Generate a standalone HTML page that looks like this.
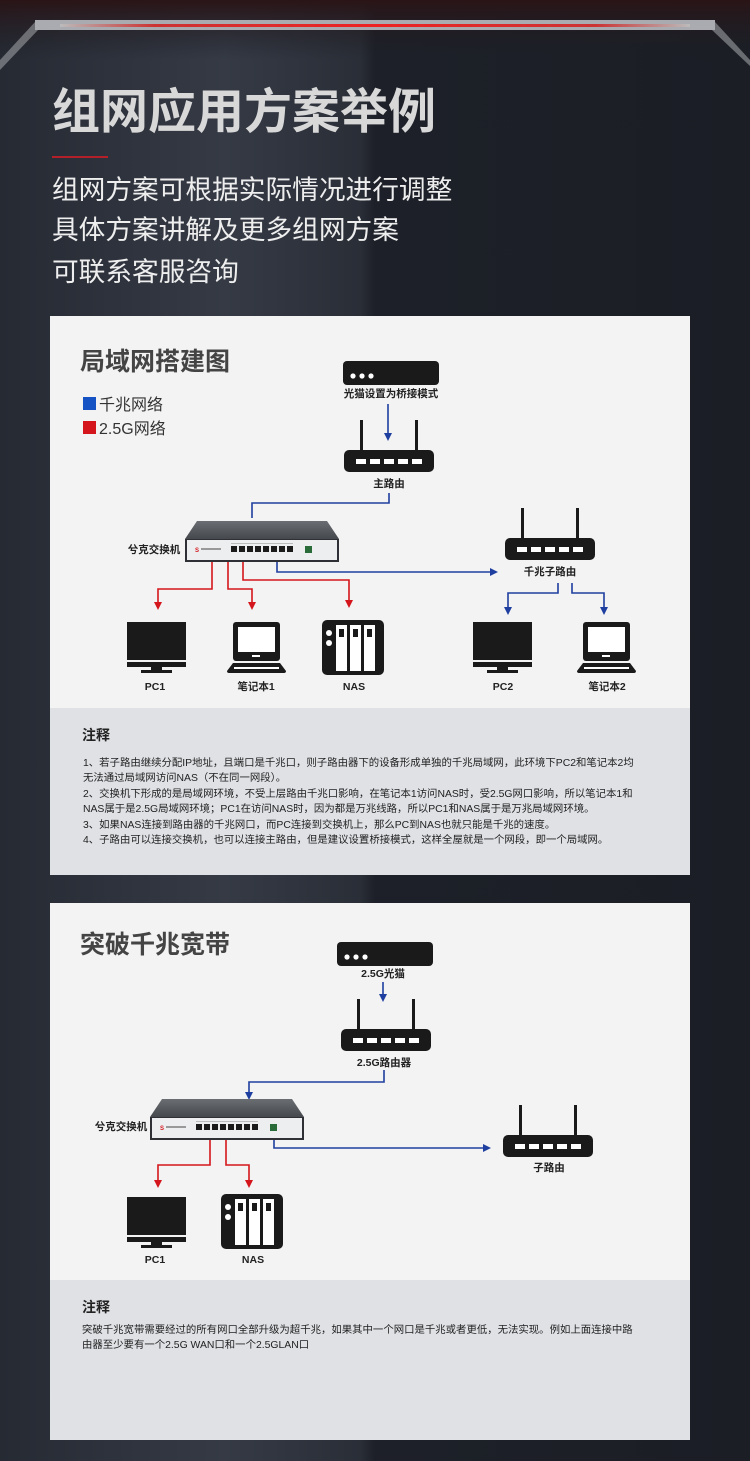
<!DOCTYPE html>
<html><head><meta charset="utf-8"><style>
html,body{margin:0;padding:0;width:750px;height:1461px;overflow:hidden;background:#1d2129;}
svg{display:block}
text{font-family:"Liberation Sans","Noto Sans CJK SC",sans-serif;}
</style></head><body>
<svg width="750" height="1461" viewBox="0 0 750 1461" xmlns="http://www.w3.org/2000/svg">
<defs>
<linearGradient id="bg" x1="0" y1="0" x2="1" y2="0">
<stop offset="0" stop-color="#262a33"/><stop offset="0.3" stop-color="#353a45"/><stop offset="0.48" stop-color="#2a2e37"/><stop offset="0.5" stop-color="#1d2028"/><stop offset="1" stop-color="#1b1e25"/>
</linearGradient>
<linearGradient id="topg" x1="0" y1="0" x2="0" y2="1">
<stop offset="0" stop-color="#2a1416"/><stop offset="1" stop-color="#1d2129" stop-opacity="0"/>
</linearGradient>
<linearGradient id="bar" x1="0" y1="0" x2="1" y2="0">
<stop offset="0" stop-color="#bbb"/><stop offset="0.15" stop-color="#c33"/><stop offset="0.5" stop-color="#e22"/><stop offset="0.85" stop-color="#c33"/><stop offset="1" stop-color="#bbb"/>
</linearGradient>
<linearGradient id="swtop" x1="0" y1="0" x2="0" y2="1">
<stop offset="0" stop-color="#6a6d72"/><stop offset="1" stop-color="#45484d"/>
</linearGradient>
<marker id="ab" markerWidth="8" markerHeight="8" refX="4" refY="4" orient="auto" markerUnits="userSpaceOnUse"><path d="M0,0 L8,4 L0,8 z" fill="#1e3fa0"/></marker>
<marker id="ar" markerWidth="8" markerHeight="8" refX="4" refY="4" orient="auto" markerUnits="userSpaceOnUse"><path d="M0,0 L8,4 L0,8 z" fill="#d4161c"/></marker>
<g id="modem"><rect x="0" y="0" width="96" height="24" rx="4" fill="#1a1a1a"/><circle cx="10" cy="15" r="2.6" fill="#fff"/><circle cx="19" cy="15" r="2.6" fill="#fff"/><circle cx="28" cy="15" r="2.6" fill="#fff"/></g>
<g id="router"><rect x="16" y="0" width="3" height="30" fill="#1a1a1a"/><rect x="71" y="0" width="3" height="30" fill="#1a1a1a"/><rect x="0" y="30" width="90" height="22" rx="5" fill="#1a1a1a"/>
<rect x="12" y="39" width="10" height="5" fill="#fff"/><rect x="26" y="39" width="10" height="5" fill="#fff"/><rect x="40" y="39" width="10" height="5" fill="#fff"/><rect x="54" y="39" width="10" height="5" fill="#fff"/><rect x="68" y="39" width="10" height="5" fill="#fff"/></g>
<g id="pc"><rect x="0" y="0" width="59" height="38" fill="#1a1a1a"/><rect x="0" y="40" width="59" height="5" fill="#1a1a1a"/><rect x="24" y="45" width="11" height="4" fill="#1a1a1a"/><rect x="14" y="48" width="31" height="3" fill="#1a1a1a"/></g>
<g id="laptop"><rect x="5" y="0" width="47" height="39" rx="3" fill="#1a1a1a"/><rect x="10" y="5" width="37" height="25" fill="#fff"/><rect x="24" y="33" width="8" height="2" fill="#fff"/><path d="M5,41 L52,41 L58,49 Q58,51 56,51 L1,51 Q-1,51 -1,49 Z" fill="#1a1a1a"/><rect x="6" y="45" width="45" height="2" fill="#fff"/></g>
<g id="nas"><rect x="0" y="0" width="62" height="55" rx="5" fill="#1a1a1a"/><circle cx="7" cy="13" r="3" fill="#fff"/><circle cx="7" cy="23" r="3" fill="#fff"/>
<rect x="14" y="5" width="11" height="46" fill="#fff"/><rect x="28" y="5" width="11" height="46" fill="#fff"/><rect x="42" y="5" width="11" height="46" fill="#fff"/>
<rect x="17" y="9" width="5" height="8" fill="#1a1a1a"/><rect x="31" y="9" width="5" height="8" fill="#1a1a1a"/><rect x="45" y="9" width="5" height="8" fill="#1a1a1a"/></g>
<g id="switch"><polygon points="12,0 142,0 154,18 0,18" fill="url(#swtop)"/><rect x="0" y="18" width="154" height="23" fill="#2e3035"/><rect x="2" y="19" width="150" height="20" fill="#eceef0"/>
<text x="10" y="31" font-size="6" fill="#d4161c" font-weight="bold">S</text><rect x="16" y="27" width="20" height="2" fill="#999"/>
<rect x="46" y="25" width="6" height="6" fill="#1a1a1a"/><rect x="54" y="25" width="6" height="6" fill="#1a1a1a"/><rect x="62" y="25" width="6" height="6" fill="#1a1a1a"/><rect x="70" y="25" width="6" height="6" fill="#1a1a1a"/><rect x="78" y="25" width="6" height="6" fill="#1a1a1a"/><rect x="86" y="25" width="6" height="6" fill="#1a1a1a"/><rect x="94" y="25" width="6" height="6" fill="#1a1a1a"/><rect x="102" y="25" width="6" height="6" fill="#1a1a1a"/>
<rect x="46" y="22" width="62" height="1" fill="#bbb"/><rect x="120" y="25" width="7" height="7" fill="#2a6b3a"/></g>
</defs>
<rect width="750" height="1461" fill="url(#bg)"/>
<rect width="750" height="60" fill="url(#topg)"/>
<polygon points="0,60 35,22 715,22 750,60 750,66 712,30 38,30 0,70" fill="#8a8d92" opacity="0.7"/>
<rect x="35" y="20" width="680" height="10" fill="#a9abb0"/>
<rect x="60" y="24" width="630" height="3" fill="url(#bar)"/>
<text x="52" y="128" font-size="48" font-weight="bold" fill="#d8d8d8">组网应用方案举例</text>
<rect x="52" y="156" width="56" height="2" fill="#b3202a"/>
<text x="52" y="199" font-size="26.7" fill="#eeeeee">组网方案可根据实际情况进行调整</text>
<text x="52" y="239" font-size="26.7" fill="#eeeeee">具体方案讲解及更多组网方案</text>
<text x="52" y="281" font-size="26.7" fill="#eeeeee">可联系客服咨询</text>

<!-- Panel 1 -->
<rect x="50" y="316" width="640" height="392" fill="#f3f3f3"/>
<rect x="50" y="708" width="640" height="167" fill="#dfe1e5"/>
<text x="80" y="370" font-size="25" font-weight="bold" fill="#444">局域网搭建图</text>
<rect x="83" y="397" width="13" height="13" fill="#1553c4"/><text x="99" y="410" font-size="16" fill="#333">千兆网络</text>
<rect x="83" y="421" width="13" height="13" fill="#d4161c"/><text x="99" y="434" font-size="16" fill="#333">2.5G网络</text>
<use href="#modem" x="343" y="361"/>
<text x="391" y="397" font-size="10.5" font-weight="bold" fill="#222" text-anchor="middle">光猫设置为桥接模式</text>
<path d="M388,404 V437" stroke="#1e3fa0" stroke-width="1.6" fill="none" marker-end="url(#ab)"/>
<use href="#router" x="344" y="420"/>
<text x="389" y="487" font-size="10.5" font-weight="bold" fill="#222" text-anchor="middle">主路由</text>
<path d="M389,493 V503 H252 V518" stroke="#1e3fa0" stroke-width="1.6" fill="none"/>
<use href="#switch" x="185" y="521"/>
<text x="154" y="553" font-size="10.5" font-weight="bold" fill="#222" text-anchor="middle">兮克交换机</text>
<path d="M212,562 V589 H158 V606" stroke="#d4161c" stroke-width="1.6" fill="none" marker-end="url(#ar)"/>
<path d="M228,562 V589 H252 V606" stroke="#d4161c" stroke-width="1.6" fill="none" marker-end="url(#ar)"/>
<path d="M243,562 V580 H349 V604" stroke="#d4161c" stroke-width="1.6" fill="none" marker-end="url(#ar)"/>
<path d="M277,562 V572 H494" stroke="#1e3fa0" stroke-width="1.6" fill="none" marker-end="url(#ab)"/>
<use href="#router" x="505" y="508"/>
<text x="550" y="575" font-size="10.5" font-weight="bold" fill="#222" text-anchor="middle">千兆子路由</text>
<path d="M558,583 V593 H508 V611" stroke="#1e3fa0" stroke-width="1.6" fill="none" marker-end="url(#ab)"/>
<path d="M572,583 V593 H604 V611" stroke="#1e3fa0" stroke-width="1.6" fill="none" marker-end="url(#ab)"/>
<use href="#pc" x="127" y="622"/>
<use href="#laptop" x="228" y="622"/>
<use href="#nas" x="322" y="620"/>
<use href="#pc" x="473" y="622"/>
<use href="#laptop" x="578" y="622"/>
<text x="155" y="690" font-size="10.5" font-weight="bold" fill="#222" text-anchor="middle">PC1</text>
<text x="256" y="690" font-size="10.5" font-weight="bold" fill="#222" text-anchor="middle">笔记本1</text>
<text x="354" y="690" font-size="10.5" font-weight="bold" fill="#222" text-anchor="middle">NAS</text>
<text x="503" y="690" font-size="10.5" font-weight="bold" fill="#222" text-anchor="middle">PC2</text>
<text x="607" y="690" font-size="10.5" font-weight="bold" fill="#222" text-anchor="middle">笔记本2</text>
<text x="82" y="740" font-size="14" font-weight="bold" fill="#222">注释</text>
<g font-size="10.4" fill="#222">
<text x="83" y="766">1、若子路由继续分配IP地址，且端口是千兆口，则子路由器下的设备形成单独的千兆局域网，此环境下PC2和笔记本2均</text>
<text x="83" y="781">无法通过局域网访问NAS（不在同一网段）。</text>
<text x="83" y="797">2、交换机下形成的是局域网环境，不受上层路由千兆口影响，在笔记本1访问NAS时，受2.5G网口影响，所以笔记本1和</text>
<text x="83" y="812">NAS属于是2.5G局域网环境；PC1在访问NAS时，因为都是万兆线路，所以PC1和NAS属于是万兆局域网环境。</text>
<text x="83" y="828">3、如果NAS连接到路由器的千兆网口，而PC连接到交换机上，那么PC到NAS也就只能是千兆的速度。</text>
<text x="83" y="843">4、子路由可以连接交换机，也可以连接主路由，但是建议设置桥接模式，这样全屋就是一个网段，即一个局域网。</text>
</g>

<!-- Panel 2 -->
<rect x="50" y="903" width="640" height="377" fill="#f3f3f3"/>
<rect x="50" y="1280" width="640" height="160" fill="#dfe1e5"/>
<text x="80" y="953" font-size="25" font-weight="bold" fill="#444">突破千兆宽带</text>
<use href="#modem" x="337" y="942"/>
<text x="383" y="977" font-size="10.5" font-weight="bold" fill="#222" text-anchor="middle">2.5G光猫</text>
<path d="M383,982 V998" stroke="#1e3fa0" stroke-width="1.6" fill="none" marker-end="url(#ab)"/>
<use href="#router" x="341" y="999"/>
<text x="384" y="1066" font-size="10.5" font-weight="bold" fill="#222" text-anchor="middle">2.5G路由器</text>
<path d="M384,1070 V1082 H249 V1096" stroke="#1e3fa0" stroke-width="1.6" fill="none" marker-end="url(#ab)"/>
<use href="#switch" x="150" y="1099"/>
<text x="121" y="1130" font-size="10.5" font-weight="bold" fill="#222" text-anchor="middle">兮克交换机</text>
<path d="M210,1140 V1165 H158 V1184" stroke="#d4161c" stroke-width="1.6" fill="none" marker-end="url(#ar)"/>
<path d="M226,1140 V1165 H249 V1184" stroke="#d4161c" stroke-width="1.6" fill="none" marker-end="url(#ar)"/>
<path d="M274,1140 V1148 H487" stroke="#1e3fa0" stroke-width="1.6" fill="none" marker-end="url(#ab)"/>
<use href="#router" x="503" y="1105"/>
<text x="549" y="1171" font-size="10.5" font-weight="bold" fill="#222" text-anchor="middle">子路由</text>
<use href="#pc" x="127" y="1197"/>
<use href="#nas" x="221" y="1194"/>
<text x="155" y="1263" font-size="10.5" font-weight="bold" fill="#222" text-anchor="middle">PC1</text>
<text x="253" y="1263" font-size="10.5" font-weight="bold" fill="#222" text-anchor="middle">NAS</text>
<text x="82" y="1312" font-size="14" font-weight="bold" fill="#222">注释</text>
<g font-size="10.4" fill="#222">
<text x="82" y="1333">突破千兆宽带需要经过的所有网口全部升级为超千兆，如果其中一个网口是千兆或者更低，无法实现。例如上面连接中路</text>
<text x="82" y="1348">由器至少要有一个2.5G WAN口和一个2.5GLAN口</text>
</g>
</svg>
</body></html>
